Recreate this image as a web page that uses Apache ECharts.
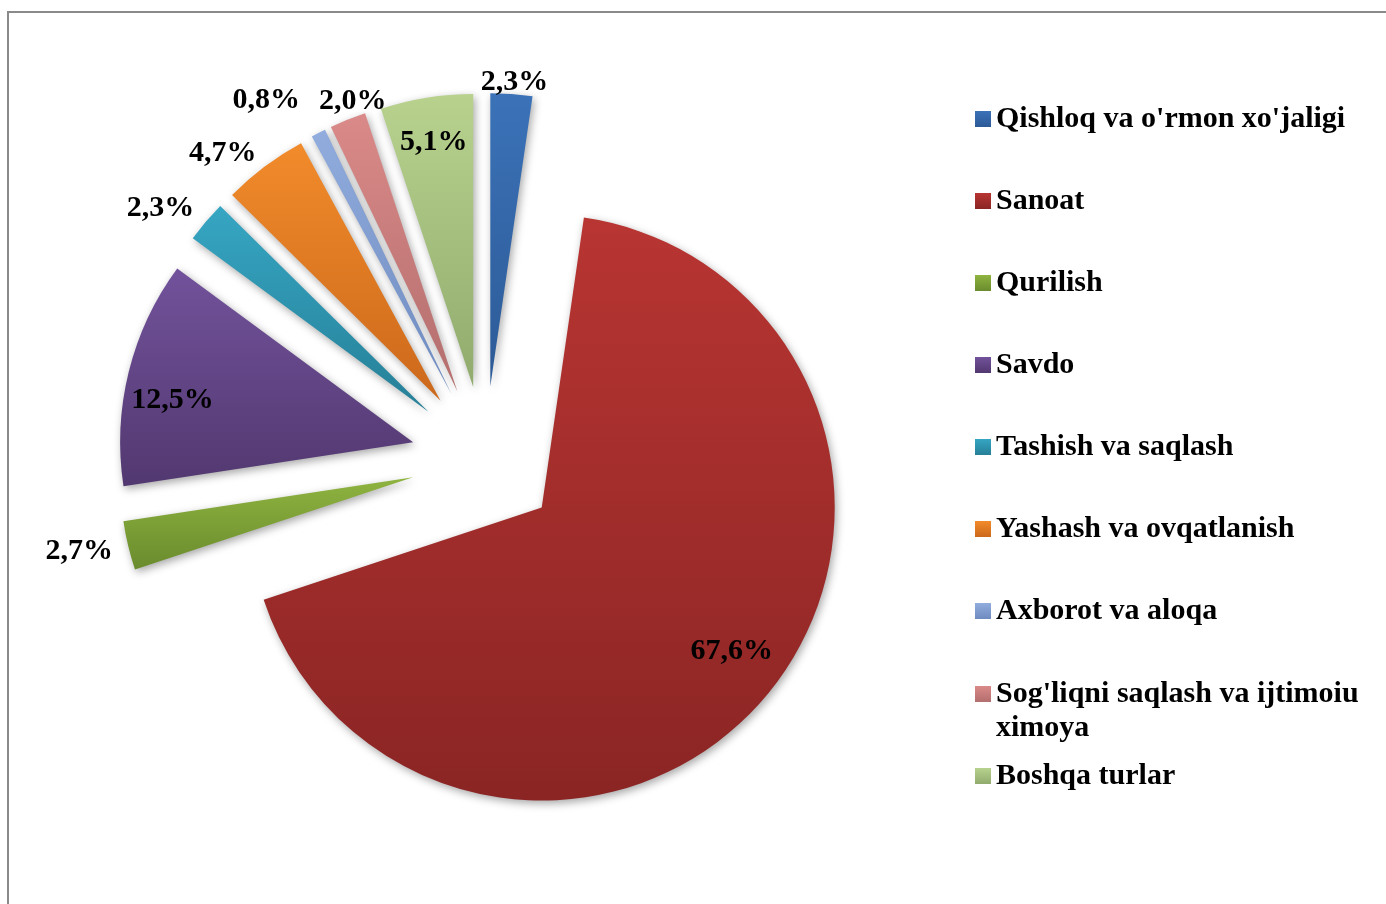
<!DOCTYPE html>
<html>
<head>
<meta charset="utf-8">
<script src="https://cdn.jsdelivr.net/npm/echarts@6/dist/echarts.min.js"></script>
<style>
html,body{margin:0;padding:0;background:#fff;}
#chart{width:1386px;height:904px;}
</style>
</head>
<body>
<div id="chart"></div>
<script>
// ---- data ----
var categories = [
  "Qishloq va o'rmon xo'jaligi",
  "Sanoat",
  "Qurilish",
  "Savdo",
  "Tashish va saqlash",
  "Yashash va ovqatlanish",
  "Axborot va aloqa",
  "Sog'liqni saqlash va ijtimoiu ximoya",
  "Boshqa turlar"
];
var shares = [2.3, 67.6, 2.7, 12.5, 2.3, 4.7, 0.8, 2.0, 5.1];
var insideLabelItems = ["Sanoat", "Savdo", "Boshqa turlar"];

// ---- styles / layout ----
var gradTop = ['#3B72B8', '#B83532', '#8FB440', '#72529B', '#36A6C3', '#F18B2B', '#91ACDD', '#DA8A88', '#B8D28E'];
var gradBot = ['#2C5A96', '#8A2524', '#6A8B2D', '#523870', '#267F97', '#CC681B', '#6E8BC0', '#B36E6E', '#90AB6D'];
var FONT = '"Liberation Serif", "Times New Roman", serif';
var R = 293, OFFSET = 74, CENTER = [485, 460];
// small label nudges (px) to follow the reference's label placement
var labelNudge = [[0, 28], [0, -16], [-10, -4], [0, 17], [-15, 13], [-18, 19], [-34, 3], [20, 19], [0, 0]];

function grad(i) {
  return new echarts.graphic.LinearGradient(0, 0, 0, 1, [
    {offset: 0, color: gradTop[i]}, {offset: 1, color: gradBot[i]}
  ]);
}
function fmt(p) { return p.value.toFixed(1).replace('.', ',') + '%'; }

var sliceData = categories.map(function (c, i) {
  return {name: c, value: shares[i], selected: true, itemStyle: {color: grad(i)}};
});
function labelData(inside) {
  return categories.map(function (c, i) {
    var isIn = insideLabelItems.indexOf(c) >= 0;
    return {name: c, value: shares[i], selected: true,
      label: {show: inside ? isIn : !isIn}};
  });
}
var labelBase = {
  type: 'pie', center: CENTER, startAngle: 90, clockwise: true,
  selectedMode: 'multiple', selectedOffset: OFFSET, avoidLabelOverlap: false,
  silent: true, itemStyle: {color: 'rgba(0,0,0,0)'},
  emphasis: {disabled: true}, select: {itemStyle: {borderWidth: 0}},
  labelLine: {show: false},
  label: {position: 'inside', formatter: fmt, color: '#000',
    fontFamily: FONT, fontWeight: 'bold', fontSize: 30},
  labelLayout: function (p) {
    var n = labelNudge[p.dataIndex];
    return {dx: n[0], dy: n[1], hideOverlap: false};
  }
};

var legendText = {fontFamily: FONT, fontWeight: 'bold', fontSize: 30, color: '#000', lineHeight: 34};
var legendBase = {orient: 'vertical', left: 975, padding: 0, itemGap: 48,
  itemWidth: 16, itemHeight: 16, icon: 'rect', selectedMode: false, textStyle: legendText,
  formatter: function (n) {
    return n === categories[7] ? "\nSog'liqni saqlash va ijtimoiu\nximoya" : n;
  }};

var option = {
  animation: false,
  backgroundColor: '#fff',
  graphic: [{type: 'rect', shape: {x: 8, y: 12, width: 1400, height: 920},
    style: {fill: 'none', stroke: '#8a8a8a', lineWidth: 2}, silent: true}],
  legend: [
    Object.assign({}, legendBase, {top: 102, data: categories.slice(0, 7)}),
    Object.assign({}, legendBase, {top: 643, data: [categories[7]]}),
    Object.assign({}, legendBase, {top: 759, data: [categories[8]]})
  ],
  series: [
    {
      type: 'pie', name: 'slices', center: CENTER, radius: [0, R], startAngle: 90, clockwise: true,
      selectedMode: 'multiple', selectedOffset: OFFSET,
      itemStyle: {shadowBlur: 8, shadowColor: 'rgba(0,0,0,0.35)', shadowOffsetX: 2, shadowOffsetY: 3},
      emphasis: {disabled: true}, select: {itemStyle: {borderWidth: 0}},
      label: {show: false}, labelLine: {show: false},
      data: sliceData
    },
    Object.assign({}, labelBase, {name: 'inner labels', radius: [197, R], data: labelData(true)}),
    Object.assign({}, labelBase, {name: 'outer labels', radius: [310, 350], data: labelData(false)})
  ]
};
var chart = echarts.init(document.getElementById('chart'), null, {renderer: 'canvas'});
chart.setOption(option);
</script>
</body>
</html>
